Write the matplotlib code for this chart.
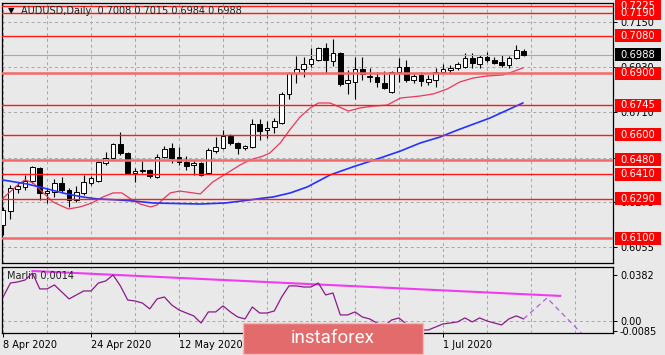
import numpy as np
import matplotlib.pyplot as plt
import matplotlib.transforms as mtransforms
from matplotlib.patches import Rectangle

# ---- daily candles AUDUSD (bar index 0..71) ----
opens = [.6163, .6231, .6338, .6348, .6377, .6440, .6319, .6323, .6367, .6333,
         .6285, .6319, .6367, .6377, .6464, .6488, .6556, .6513, .6416, .6425,
         .6430, .6396, .6493, .6537, .6493, .6469, .6454, .6464, .6416, .6522,
         .6537, .6595, .6561, .6537, .6542, .6653, .6624, .6639, .6658, .6799,
         .6900, .6920, .6944, .6964, .7022, .6959, .6998, .6852, .6857, .6920,
         .6881, .6881, .6852, .6808, .6905, .6930, .6867, .6891, .6857, .6867,
         .6905, .6915, .6925, .6930, .6973, .6944, .6978, .6964, .6954, .6939,
         .6973, .7008]
highs = [.6251, .6357, .6372, .6406, .6449, .6445, .6343, .6386, .6396, .6343,
         .6352, .6406, .6401, .6474, .6517, .6561, .6614, .6517, .6440, .6474,
         .6435, .6508, .6546, .6561, .6542, .6498, .6479, .6469, .6537, .6590,
         .6624, .6605, .6566, .6551, .6677, .6677, .6668, .6682, .6808, .6905,
         .6983, .6978, .7022, .7027, .7046, .7065, .7002, .6915, .6978, .6978,
         .6925, .6905, .6910, .6910, .6973, .6964, .6896, .6905, .6891, .6925,
         .6944, .6939, .6954, .6998, .6998, .6988, .7002, .6978, .6988, .6983,
         .7036, .7015]
lows = [.6115, .6192, .6319, .6333, .6367, .6285, .6270, .6299, .6319, .6251,
        .6275, .6309, .6357, .6372, .6454, .6483, .6503, .6411, .6372, .6416,
        .6391, .6391, .6488, .6464, .6454, .6430, .6406, .6401, .6411, .6513,
        .6532, .6551, .6508, .6527, .6537, .6576, .6585, .6610, .6653, .6774,
        .6852, .6881, .6930, .6959, .6900, .6934, .6838, .6799, .6774, .6867,
        .6857, .6833, .6823, .6804, .6857, .6857, .6852, .6838, .6842, .6833,
        .6900, .6900, .6915, .6925, .6925, .6925, .6954, .6944, .6930, .6925,
        .6968, .6984]
closes = [.6236, .6343, .6352, .6377, .6445, .6319, .6328, .6367, .6333, .6285,
          .6323, .6372, .6391, .6469, .6488, .6556, .6513, .6416, .6425, .6430,
          .6401, .6493, .6532, .6488, .6469, .6449, .6464, .6406, .6527, .6542,
          .6595, .6561, .6537, .6546, .6653, .6619, .6634, .6668, .6799, .6900,
          .6920, .6944, .6968, .7022, .6964, .6998, .6847, .6867, .6920, .6896,
          .6886, .6857, .6828, .6905, .6930, .6867, .6886, .6862, .6871, .6905,
          .6920, .6925, .6944, .6973, .6949, .6978, .6964, .6949, .6939, .6973,
          .7012, .6988]

# moving averages (bar position, price)
ma_fast_x = [0, 2.3, 3.0, 4.1, 5.5, 6.8, 8.9, 10.5, 12.1, 13.6, 15.0, 16.2, 17.6,
             18.7, 20.1, 21.0, 21.7, 22.8, 24.1, 26.9, 28.6, 30.6, 32.3, 33.7,
             35.5, 36.4, 37.8, 39.2, 40.5, 41.9, 43.0, 44.6, 45.6, 47.1, 48.7,
             50.5, 52.4, 54.2, 56.9, 58.7, 60.6, 62.3, 64.1, 66.0, 68.2, 69.4, 70.9]
ma_fast_y = [.6294, .6367, .6382, .6367, .6319, .6275, .6241, .6251, .6270, .6299,
             .6319, .6319, .6285, .6265, .6251, .6260, .6285, .6319, .6328, .6314,
             .6372, .6416, .6454, .6479, .6498, .6513, .6561, .6629, .6687, .6731,
             .6755, .6755, .6740, .6716, .6731, .6740, .6745, .6779, .6789, .6799,
             .6823, .6857, .6876, .6886, .6891, .6905, .6925]
ma_slow_x = [-0.1, 3.3, 5.5, 8.7, 10.9, 12.8, 15.6, 17.7, 20.5, 26.9, 30.3, 33.7,
             35.5, 36.8, 39.2, 41.5, 44.6, 47.7, 51.0, 54.2, 56.9, 59.6, 62.0,
             66.4, 70.9]
ma_slow_y = [.6382, .6362, .6343, .6314, .6299, .6290, .6285, .6280, .6270, .6265,
             .6270, .6285, .6294, .6299, .6319, .6348, .6406, .6445, .6483, .6522,
             .6561, .6590, .6624, .6682, .6755]

levels = [0.7225, 0.7190, 0.7080, 0.6900, 0.6745, 0.6600, 0.6480, 0.6410, 0.6290, 0.6100]
last_price = 0.6988
price_ticks = [0.6055, 0.6275, 0.6490, 0.6710, 0.6930, 0.7150]

# Marlin oscillator, one value per bar
marlin = [.0199, .0315, .0324, .0340, .0398, .0266, .0266, .0299, .0241, .0183,
          .0216, .0249, .0249, .0315, .0332, .0382, .0291, .0174, .0166, .0149,
          .0100, .0183, .0199, .0133, .0091, .0066, .0042, -.0017, .0075, .0075,
          .0125, .0075, .0033, .0017, .0116, .0066, .0066, .0083, .0199, .0291,
          .0291, .0282, .0282, .0315, .0216, .0232, .0050, .0050, .0075, .0033,
          .0017, -.0017, -.0042, .0008, .0025, -.0025, -.0058, -.0075, -.0075, -.0050,
          -.0025, -.0017, -.0008, .0025, -.0008, .0025, .0000, -.0017, -.0033, .0017,
          .0042, .0017]
proj_x = [71, 74.2, 79.5]
proj_y = [0.0017, 0.0191, -0.0140]
trend_x = [4, 76]
trend_y = [0.0415, 0.0208]

date_pos = [0, 12, 24, 36, 48, 60]
date_labels = ['8 Apr 2020', '24 Apr 2020', '12 May 2020', '28 May 2020', '15 Jun 2020', '1 Jul 2020']

BG = '#E9E9E9'
GRID = dict(color='#A6A6A6', lw=0.7, ls=(0, (3, 3)), zorder=1)
plt.rcParams['font.family'] = ['DejaVu Sans']
plt.rcParams['font.size'] = 7

fig = plt.figure(figsize=(6.65, 3.55), dpi=100, facecolor=BG)
W, H = 665.0, 355.0
ax = fig.add_axes([2 / W, 1 - 263 / H, 611 / W, 260 / H])
ax2 = fig.add_axes([2 / W, 1 - 333 / H, 611 / W, 66 / H])
XMIN, XMAX = -0.15, 83.2

# ---- main panel ----
ax.set_facecolor(BG)
ax.set_xlim(XMIN, XMAX)
ax.set_ylim(0.5979, 0.7240)
for gx in np.arange(0, 84, 6):
    ax.axvline(gx, **GRID)
for t in price_ticks:
    ax.axhline(t, **GRID)

x = np.arange(len(opens))
o = np.array(opens)
c = np.array(closes)
up = c >= o
ax.vlines(x, lows, highs, color='black', lw=0.8, zorder=2)
body_lo = np.minimum(o, c)
body_h = np.maximum(np.abs(c - o), 0.0001)
ax.bar(x[up], body_h[up], bottom=body_lo[up], width=0.62, color='white',
       edgecolor='black', lw=0.7, zorder=3)
ax.bar(x[~up], body_h[~up], bottom=body_lo[~up], width=0.62, color='black',
       edgecolor='black', lw=0.7, zorder=3)

ax.axhline(last_price, color='#A9A9A9', lw=0.8, zorder=2)
ax.plot(ma_fast_x, ma_fast_y, color='#E8385C', lw=0.9, zorder=4)
ax.plot(ma_slow_x, ma_slow_y, color='#2233FF', lw=1.2, zorder=4)

soft = {0.6900, 0.6480, 0.6100}
for lvl in levels:
    if lvl in soft:
        ax.axhline(lvl, color='#F26A6A', lw=1.8, zorder=5)
    else:
        ax.axhline(lvl, color='#FF1A1A', lw=1.0, zorder=5)

ax.yaxis.tick_right()
ax.set_yticks(price_ticks, [f'{t:.4f}' for t in price_ticks])
ax.tick_params(axis='y', length=3, pad=2, labelsize=7, width=0.7)
ax.set_xticks([])
for s in ax.spines.values():
    s.set_linewidth(0.9)

trans = mtransforms.blended_transform_factory(ax.transAxes, ax.transData)
bh = 13 * (0.7240 - 0.5979) / 260
bx0, bw = 1.0033, 46 / 611


def tag(val, face):
    ax.add_patch(Rectangle((bx0, val - bh / 2), bw, bh, transform=trans,
                           facecolor=face, edgecolor='none', clip_on=False, zorder=8))
    ax.text(bx0 + bw / 2, val, f'{val:.4f}', transform=trans, color='white',
            ha='center', va='center', fontsize=7.2, clip_on=False, zorder=9)


for lvl in sorted(levels):
    tag(lvl, '#FF0000')
tag(last_price, 'black')

fig.text(8 / W, 1 - 11 / H, '\u25bc', fontsize=6, va='center', ha='left')
fig.text(21 / W, 1 - 11 / H, 'AUDUSD,Daily  0.7008 0.7015 0.6984 0.6988',
         fontsize=7, va='center', ha='left', color='#202020')

# ---- Marlin panel ----
ax2.set_facecolor(BG)
ax2.set_xlim(XMIN, XMAX)
ax2.set_ylim(-0.0100, 0.0448)
for gx in np.arange(0, 84, 6):
    ax2.axvline(gx, **GRID)
ax2.axhline(0, **GRID)
ax2.plot(trend_x, trend_y, color='#F03CF0', lw=1.5, zorder=3)
ax2.plot(np.arange(len(marlin)), marlin, color='#8A1A8A', lw=0.9, zorder=4)
ax2.plot(proj_x, proj_y, color='#A862D8', lw=0.9, ls=(0, (4, 3)), zorder=4)
ax2.text(5 / 611, 0.86, 'Marlin 0.0014', transform=ax2.transAxes, fontsize=7,
         va='center', ha='left', color='#202020')

ax2.yaxis.tick_right()
ax2.set_yticks([0.0382, 0.0, -0.0085], ['0.0382', '0.00', '-0.0085'])
ax2.tick_params(axis='y', length=3, pad=2, labelsize=7, width=0.7)
ax2.set_xticks(date_pos, date_labels)
ax2.tick_params(axis='x', length=3, pad=2, labelsize=7, width=0.7)
for lbl in ax2.get_xticklabels():
    lbl.set_ha('left')
for s in ax2.spines.values():
    s.set_linewidth(0.9)

# watermark
fig.add_artist(Rectangle((243 / W, 1 - 354 / H), 180 / W, 31 / H, transform=fig.transFigure,
                         facecolor='#E46B6B', edgecolor='#F4B8B8', lw=1, zorder=10))
fig.text(333 / W, 1 - 338 / H, 'instaforex', fontsize=13.5, family=['Roboto', 'DejaVu Sans'],
         color='white', ha='center', va='center', zorder=11)

fig.savefig('out.png', dpi=100, facecolor=BG)
